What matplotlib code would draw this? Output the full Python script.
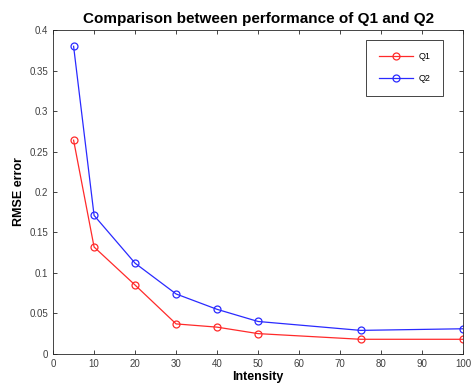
import matplotlib
matplotlib.use("Agg")
import matplotlib.pyplot as plt

plt.rcParams['font.family'] = ['Liberation Sans', 'DejaVu Sans']

# intensity levels and RMSE values
intensity = [5, 10, 20, 30, 40, 50, 75, 100]
q1_rmse = [0.264, 0.132, 0.085, 0.037, 0.033, 0.025, 0.018, 0.018]
q2_rmse = [0.380, 0.171, 0.112, 0.074, 0.055, 0.040, 0.029, 0.031]

fig = plt.figure(figsize=(4.74, 3.91), dpi=100)
ax = fig.add_axes([0.112, 0.095, 0.865, 0.828])

ax.plot(intensity, q1_rmse, '-o', color='#ff2a2a', lw=0.9, ms=5,
        mfc='none', mew=0.9, label='Q1')
ax.plot(intensity, q2_rmse, '-o', color='#2a2aff', lw=0.9, ms=5,
        mfc='none', mew=0.9, label='Q2')

ax.set_xlim(0, 100)
ax.set_ylim(0, 0.4)
ax.set_xticks(range(0, 101, 10))
ax.set_yticks([0, 0.05, 0.1, 0.15, 0.2, 0.25, 0.3, 0.35, 0.4])
ax.set_yticklabels(['0', '0.05', '0.1', '0.15', '0.2', '0.25', '0.3', '0.35', '0.4'])
ax.tick_params(direction='in', top=True, right=True, labelsize=7,
               labelcolor='#404040', color='#262626', length=3, width=0.6)
for s in ax.spines.values():
    s.set_linewidth(0.6)
    s.set_color('#262626')

ax.set_xlabel('Intensity', fontsize=9, fontweight='bold', labelpad=2)
ax.set_ylabel('RMSE error', fontsize=9, fontweight='bold', labelpad=3)
ax.set_title('Comparison between performance of Q1 and Q2', fontsize=11,
             fontweight='bold', pad=5)

leg = ax.legend(loc='upper right', bbox_to_anchor=(0.951, 0.97), fontsize=6.5,
                fancybox=False, edgecolor='#262626', framealpha=1,
                handlelength=3.8, handletextpad=0.6, borderpad=1.4,
                borderaxespad=0, labelspacing=1.4)
leg.get_frame().set_linewidth(0.6)

fig.savefig('out.png', dpi=100)
